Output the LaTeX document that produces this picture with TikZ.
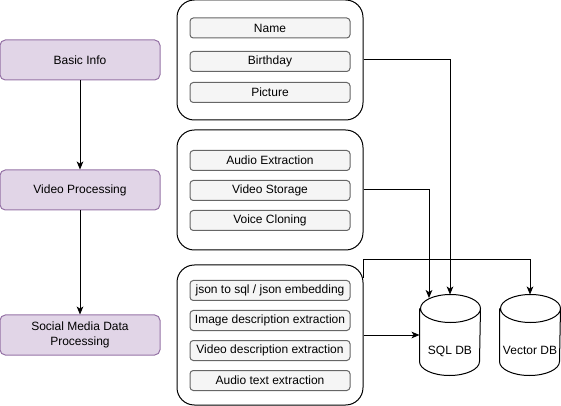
\documentclass[tikz,border=0pt]{standalone}
\usepackage{fontspec}
\setmainfont{Liberation Sans}
\usepackage{xcolor}
\usepackage{tikz}
\usetikzlibrary{arrows.meta, positioning}

\definecolor{stepfill}{HTML}{E1D5E7}
\definecolor{stepline}{HTML}{9673A6}
\definecolor{itemfill}{HTML}{F5F5F5}
\definecolor{itemline}{HTML}{666666}

\tikzset{
  tip/.style={-{Stealth[length=6pt,width=5pt,inset=1.6pt]}},
  stepbox/.style={draw=stepline,fill=stepfill,rounded corners=4pt,minimum width=120pt,minimum height=30pt,align=center},
  groupbox/.style={draw,rounded corners=13pt,minimum width=139.5pt},
  itembox/.style={draw=itemline,fill=itemfill,rounded corners=2.5pt,minimum width=120pt,minimum height=15pt,inner sep=0pt},
  dbnode/.style={minimum width=45pt,minimum height=60pt,inner sep=0pt,text height=30pt,text depth=1.5pt}
}
% cylinder outline round a db node
\newcommand\dbshape[1]{%
  \draw ([yshift=-10.5pt]#1.north west) -- ([yshift=10.5pt]#1.south west)
    arc[start angle=180,end angle=360,x radius=22.5pt,y radius=10.5pt]
    -- ([yshift=-10.5pt]#1.north east)
    arc[start angle=0,end angle=180,x radius=22.5pt,y radius=10.5pt]
    arc[start angle=180,end angle=360,x radius=22.5pt,y radius=10.5pt];}

\begin{document}
\begin{tikzpicture}[x=0.75pt,y=-0.75pt,line width=0.75pt,font=\fontsize{9}{10.8}\selectfont]
        \useasboundingbox (0,0) rectangle (561,406);
        \begin{scope}[every node/.style={stepbox}]
          \node (basic) at (80,60) {Basic Info};
          \node (video) at (80,190) {Video Processing};
          \node (social) at (80,335) {Social Media Data\\Processing};
        \end{scope}
        \begin{scope}[every node/.style={groupbox}]
          \node[minimum height=90pt] (basicgrp) at (270,60) {};
          \node[minimum height=90pt] (videogrp) at (270,190) {};
          \node[minimum height=105pt] (socialgrp) at (270,335) {};
        \end{scope}
        \begin{scope}[every node/.style={itembox}]
          \node (name) at (270,28) {Name};
          \node (birthday) at (270,61.5) {Birthday};
          \node (picture) at (270,92.5) {Picture};
          \node (audioex) at (270,160.5) {Audio Extraction};
          \node (videost) at (270,190.5) {Video Storage};
          \node (voicecl) at (270,220.5) {Voice Cloning};
          \node (jsonsql) at (270,290.5) {json to sql / json embedding};
          \node (imgdesc) at (270,320.5) {Image description extraction};
          \node (viddesc) at (270,350.5) {Video description extraction};
          \node (audtext) at (270,380.5) {Audio text extraction};
        \end{scope}
        \begin{scope}[every node/.style={dbnode}]
          \node (sql) at (450,335) {SQL DB};
          \node (vector) at (530,335) {Vector DB};
        \end{scope}
        \dbshape{sql}
        \dbshape{vector}
        \coordinate (vecfrom) at (363,278);
        \coordinate (vecbend) at (363,260);
        \coordinate (sqlleft) at (429,298);
        \begin{scope}[every edge/.style={draw=black,tip}]
          \path (basic) edge (video);
          \path (video) edge (social);
          \path (socialgrp) edge (sql);
        \end{scope}
        \draw[tip] (basicgrp.east) -| (sql.north);
        \draw[tip] (videogrp.east) -| (sqlleft);
        \draw[tip] (vecfrom) -- (vecbend) -| (vector.north);
      \end{tikzpicture}
\end{document}
